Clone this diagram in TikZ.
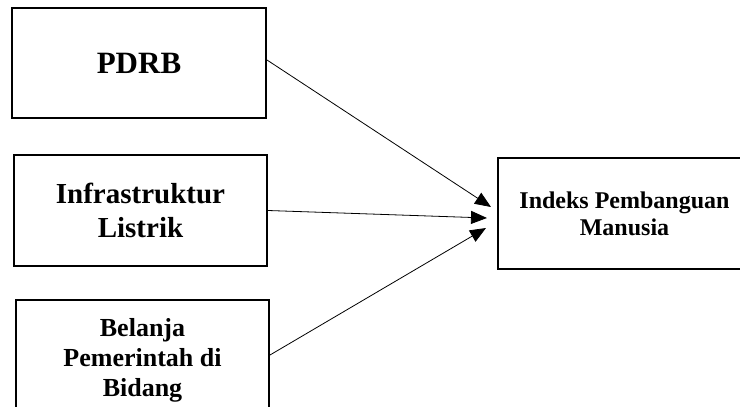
\documentclass[tikz,border=0pt]{standalone}
\usepackage{fontspec}
\setmainfont{Liberation Serif}
\usetikzlibrary{arrows.meta}
\begin{document}
\begin{tikzpicture}[x=1pt,y=1pt,
        kotak/.style={draw, line width=2pt, align=center, inner sep=0pt},
        panah/.style={-{Triangle[length=16pt,width=13pt]}, line width=0.8pt}]
                    \useasboundingbox (0,0) rectangle (740,-407);
                    \clip (0,0) rectangle (740,-407);
                    \node[kotak, minimum width=254, minimum height=110, font=\bfseries\fontsize{31}{36}\selectfont] (pdrb) at (139,-63) {PDRB};
                    \node[kotak, minimum width=253, minimum height=111, font=\bfseries\fontsize{29}{34}\selectfont] (infra) at (140.5,-210.5) {Infrastruktur\\Listrik};
                    \node[kotak, minimum width=253, minimum height=120, font=\bfseries\fontsize{26}{30}\selectfont] (belanja) at (142.5,-360) {Belanja\\Pemerintah di\\Bidang};
                    \node[kotak, minimum width=253, minimum height=111, font=\bfseries\fontsize{24}{27}\selectfont] (ipm) at (624.5,-213.5) {Indeks Pembanguan\\Manusia};
                    \draw[panah] ([yshift=3]pdrb.east) -- ([xshift=-6,yshift=6.5]ipm.west);
                    \draw[panah] (infra.east)   -- ([xshift=-10,yshift=-4.5]ipm.west);
                    \draw[panah] ([yshift=5]belanja.east) -- ([xshift=-11,yshift=-14.5]ipm.west);
                \end{tikzpicture}
\end{document}
